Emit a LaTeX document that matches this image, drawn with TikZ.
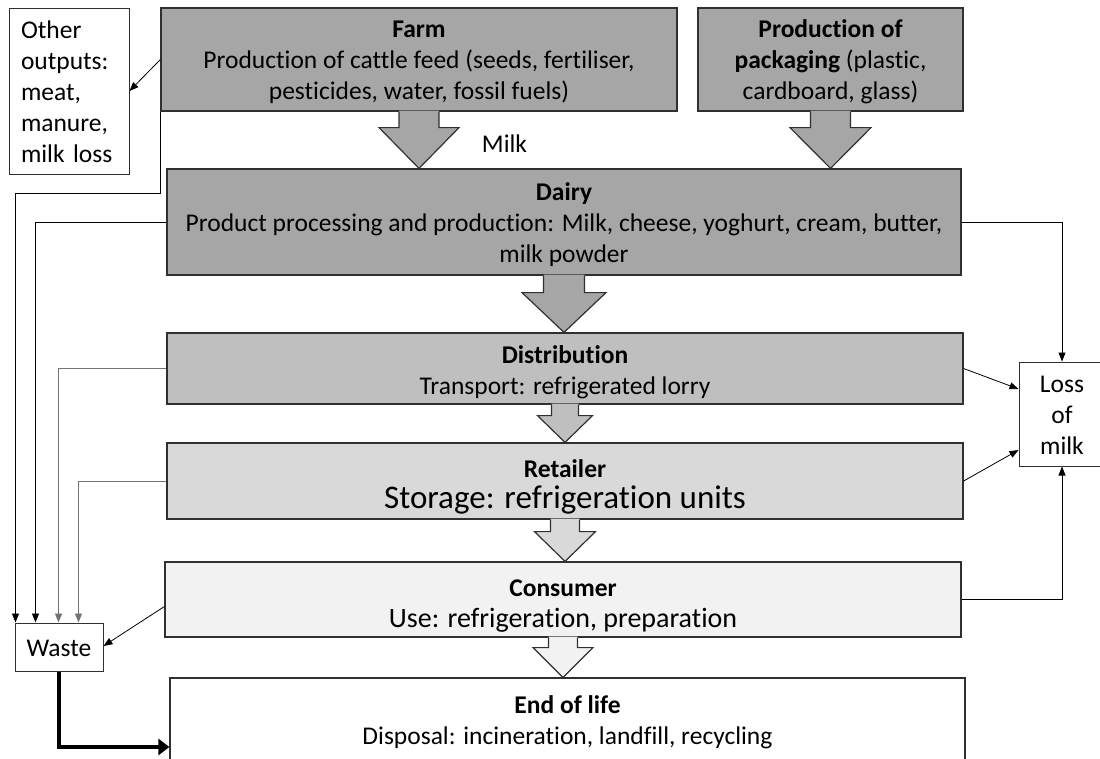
\documentclass[tikz,border=0pt]{standalone}
\usepackage{fontspec}
\setmainfont[Ligatures=NoCommon]{Carlito}
\usetikzlibrary{arrows.meta,calc}

\definecolor{shadeA}{HTML}{A6A6A6}
\definecolor{shadeB}{HTML}{BFBFBF}
\definecolor{shadeC}{HTML}{D9D9D9}
\definecolor{shadeD}{HTML}{F2F2F2}
\definecolor{edge}{HTML}{303030}

% line struts: normal line, and shortened last lines
\newcommand\lnN{\rule[-6.5pt]{0pt}{31pt}}
\newcommand\lnD{\rule[-3.5pt]{0pt}{28pt}}
\newcommand\lnM{\rule{0pt}{24pt}}
\newcommand\lnL{\rule[-1.5pt]{0pt}{26pt}}

% broad downward arrow from one stage to the next
% #1 source, #2 target, #3 shaft half width, #4 head half width, #5 shaft length, #6 fill
\newcommand\blockarrow[6]{%
  \fill[#6] let \p1=(#1.south), \p2=(#2.north) in
    (\x1-#3,\y1+1pt) -- (\x1-#3,\y1-#5) -- (\x1-#4,\y1-#5) -- (\x1,\y2)
    -- (\x1+#4,\y1-#5) -- (\x1+#3,\y1-#5) -- (\x1+#3,\y1+1pt) -- cycle;
  \draw[draw=edge,line width=1.2pt,line join=miter] let \p1=(#1.south), \p2=(#2.north) in
    (\x1-#3,\y1) -- (\x1-#3,\y1-#5) -- (\x1-#4,\y1-#5) -- (\x1,\y2)
    -- (\x1+#4,\y1-#5) -- (\x1+#3,\y1-#5) -- (\x1+#3,\y1);
}

\tikzset{
  txt/.style={font=\fontsize{25.5}{31}\selectfont},
  stage/.style={txt, draw=edge, line width=1.2pt, inner sep=0pt, align=center},
  sidebox/.style={txt, draw=edge, line width=1pt, fill=white, inner sep=0pt, align=center},
  flow/.style={draw=black, line width=0.8pt, -{Triangle[length=9pt,width=7pt]}},
  flowgray/.style={flow, draw=black!55},
  wastepath/.style={draw=black, line width=3.5pt, -{Triangle[length=11pt,width=16pt]}},
}

\begin{document}
\begin{tikzpicture}[x=1pt,y=-1pt]
\useasboundingbox (0,0) rectangle (1100,758);

% stages of the chain
\node[stage, fill=shadeA, minimum width=516pt, minimum height=103pt] (farm) at (419,59.5)
  {\textbf{Farm}\lnN\\Production of cattle feed (seeds, fertiliser,\lnN\\pesticides, water, fossil fuels)\lnN};
\node[stage, fill=shadeA, minimum width=265pt, minimum height=103pt] (pack) at (830.5,59.5)
  {\textbf{Production of}\lnN\\\textbf{packaging} (plastic,\lnN\\cardboard, glass)\lnN};
\node[stage, fill=shadeA, minimum width=794pt, minimum height=106pt] (dairy) at (564,222)
  {\textbf{Dairy}\lnN\\Product processing and production: Milk, cheese, yoghurt, cream, butter,\lnN\\milk powder\lnN};
\node[stage, fill=shadeB, minimum width=796pt, minimum height=71pt] (dist) at (565,368.5)
  {\textbf{Distribution}\lnN\\Transport: refrigerated lorry\lnD};
\node[stage, fill=shadeC, minimum width=796pt, minimum height=76pt] (retail) at (565,481)
  {\textbf{Retailer}\lnN\\{\fontsize{33}{31}\selectfont\smash{Storage: refrigeration units}\lnL}};
\node[stage, fill=shadeD, minimum width=796pt, minimum height=75pt] (consumer) at (563,599.5)
  {\textbf{Consumer}\lnN\\{\fontsize{28}{31}\selectfont\smash{Use: refrigeration, preparation}\lnM}};
\node[stage, fill=white, minimum width=795pt, minimum height=83pt] (eol) at (567.5,719.5)
  {\textbf{End of life}\lnN\\Disposal: incineration, landfill, recycling\lnN};

% side boxes
\node[sidebox, minimum width=120pt, minimum height=166pt, text width=96pt, align=left] (other) at (69,91)
  {Other\lnN\\outputs:\lnN\\meat,\lnN\\manure,\lnN\\milk loss\lnN};
\node[sidebox, minimum width=86pt, minimum height=104pt] (loss) at (1062,414)
  {Loss\lnN\\of\lnN\\milk\lnN};
\node[sidebox, minimum width=88pt, minimum height=48pt] (waste) at (59,647) {Waste\lnN};

\node[txt, anchor=base] (milk) at (504.5,152) {Milk};

% broad arrows between stages
\blockarrow{farm}{dairy}{20pt}{40pt}{16pt}{shadeA}
\blockarrow{pack}{dairy}{20pt}{40.5pt}{16pt}{shadeA}
\blockarrow{dairy}{dist}{20.5pt}{42pt}{17pt}{shadeA}
\blockarrow{dist}{retail}{13.5pt}{27.5pt}{11pt}{shadeB}
\blockarrow{retail}{consumer}{14.5pt}{30.5pt}{12pt}{shadeC}
\blockarrow{consumer}{eol}{14.5pt}{30pt}{10pt}{shadeD}

% by-products
\draw[flow] (farm.west) -- (other.east);

% waste streams
\draw[flow] (farm.south west) -- ++(0,82) -| ([xshift=1pt]waste.north west);
\draw[flow] (dairy.west) -| ([xshift=21pt]waste.north west);
\draw[flowgray] (dist.west) -| ([xshift=44pt]waste.north west);
\draw[flowgray] (retail.west) -| ([xshift=64pt]waste.north west);
\draw[flow] ([yshift=-7pt]consumer.west) -- ([yshift=1pt]waste.east);
\draw[wastepath] (waste.south) |- ([yshift=-27.5pt]eol.west);

% milk losses
\draw[flow] (dairy.east) -| (loss.north);
\draw[flow] (dist.east) -- ([yshift=25pt]loss.west);
\draw[flow] (retail.east) -- ([yshift=-36pt]loss.west);
\draw[flow] (consumer.east) -| (loss.south);
\end{tikzpicture}
\end{document}
